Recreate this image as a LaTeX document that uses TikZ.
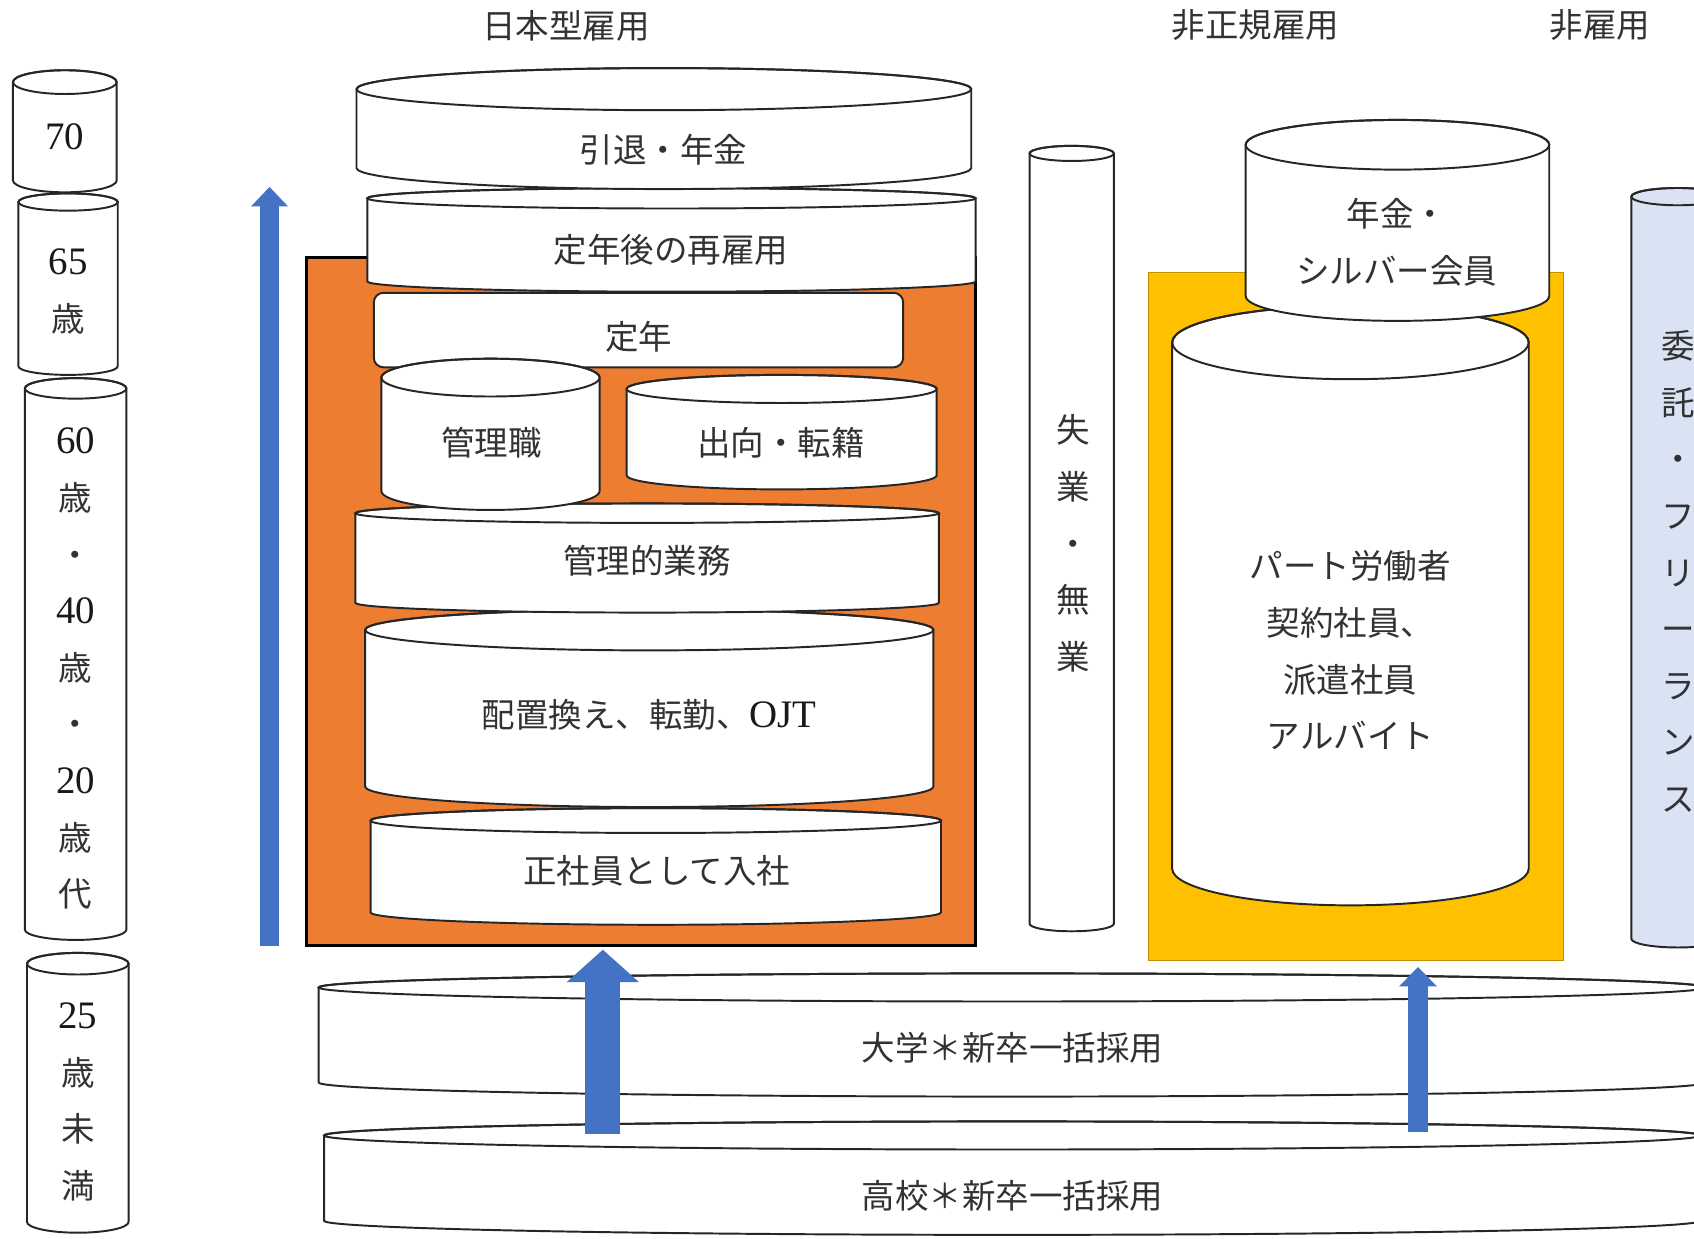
\documentclass[tikz,border=0pt]{standalone}
\usepackage{fontspec}
\setmainfont{Liberation Serif}
\newfontfamily\jp{Noto Sans CJK JP}
\usetikzlibrary{arrows.meta}
\definecolor{orfill}{RGB}{237,125,49}
\definecolor{yefill}{RGB}{255,192,0}
\definecolor{yeline}{RGB}{191,144,0}
\definecolor{lbfill}{RGB}{218,227,243}
\definecolor{blarr}{RGB}{68,114,196}
\definecolor{txtc}{RGB}{50,50,50}
\newcommand\numtxt[1]{{\fontsize{18}{26.2}\selectfont\rmfamily\color{black!90}#1}}
\tikzset{
  cyl/.style={draw=black!85, line width=0.9pt},
  lbl/.style={font=\jp\fontsize{15.5}{26.2}\selectfont, text=txtc, inner sep=0pt, align=center},
  blarrow/.style={draw=blarr, fill=blarr},
}
% x1, x2, ytop, ybottom, ry (all in picture px), fill
\newcommand\drawcyl[6]{%
  \pgfmathsetmacro\cylcx{(#1+#2)/2}%
  \pgfmathsetmacro\cylrx{(#2-#1)/4}%
  \pgfmathsetmacro\cylry{#5/2}%
  \pgfmathsetmacro\cylyt{#3+#5}%
  \pgfmathsetmacro\cylyb{#4-#5}%
  \filldraw[cyl,fill=#6] (#1,\cylyt) -- (#1,\cylyb)
     arc[start angle=180,end angle=360,x radius=\cylrx pt,y radius=\cylry pt]
     -- (#2,\cylyt)
     arc[start angle=0,end angle=180,x radius=\cylrx pt,y radius=\cylry pt] -- cycle;
  \draw[cyl] (\cylcx,\cylyt) ellipse[x radius=\cylrx pt,y radius=\cylry pt];
}
\begin{document}
\begin{tikzpicture}[x=0.5pt,y=-0.5pt]
\useasboundingbox (0,0) rectangle (1568,1146);
\clip (0,0) rectangle (1568,1146);
\fill[white] (0,0) rectangle (1568,1146);

% left age column
\drawcyl{12}{108}{65}{178}{11}{white}
\drawcyl{17}{109}{179}{347}{8}{white}
\drawcyl{23}{117}{350}{870}{9.5}{white}
\drawcyl{25}{119}{882}{1141}{10}{white}

% left arrow
\coordinate (la0) at (249.5,876);
\coordinate (la1) at (249.5,173);
\draw[blarrow, line width=8.5pt, -{Triangle[width=16.5pt,length=9pt]}] (la0) -- (la1);

% Japanese-style employment block
\filldraw[fill=orfill, draw=black, line width=1.3pt] (284,238) rectangle (903,875);
\drawcyl{343}{871}{748}{856}{11.5}{white}
\drawcyl{338}{864}{564}{747}{19}{white}
\drawcyl{329}{869}{466}{567}{9}{white}
\drawcyl{580}{867}{347}{453}{13}{white}
\draw[cyl, fill=white, rounded corners=4.5pt] (346,271) rectangle (836,340);
\drawcyl{353}{555}{332}{472}{17.5}{white}
\drawcyl{340}{903}{174}{270}{9.5}{white}
\drawcyl{330}{899}{63}{175}{19.5}{white}

% unemployment
\drawcyl{953}{1031}{135}{862}{7}{white}

% non-regular block
\filldraw[fill=yefill, draw=yeline, line width=0.6pt] (1063,252) rectangle (1447,889);
\drawcyl{1085}{1415}{283}{838}{34}{white}
\drawcyl{1153}{1434}{111}{297}{23}{white}

% non-employment
\drawcyl{1510}{1596}{174}{877}{8}{lbfill}

% bottom recruitment
\drawcyl{295}{1579}{901}{1015}{13}{white}
\drawcyl{300}{1574}{1038}{1143}{13}{white}

% bottom arrows
\coordinate (ba0) at (558,1050);
\coordinate (ba1) at (558,879);
\draw[blarrow, line width=16.25pt, -{Triangle[width=32.5pt,length=15pt]}] (ba0) -- (ba1);
\coordinate (sa0) at (1312.5,1048);
\coordinate (sa1) at (1312.5,895);
\draw[blarrow, line width=9.5pt, -{Triangle[width=17pt,length=9pt]}] (sa0) -- (sa1);

% texts
\node[lbl] (h1) at (524,24) {日本型雇用};
\node[lbl] (h2) at (1162,23) {非正規雇用};
\node[lbl] (h3) at (1481,23) {非雇用};
\node[lbl] (t70) at (60,127) {\numtxt{70}};
\node[lbl] (t65) at (63,270) {\numtxt{65}\\歳};
\node[lbl] (t60) at (70,619) {\numtxt{60}\\歳\\・\\\numtxt{40}\\歳\\・\\\numtxt{20}\\歳\\代};
\node[lbl] (t25) at (72,1020) {\numtxt{25}\\歳\\未\\満};
\node[lbl] (t1) at (614,139) {引退・年金};
\node[lbl] (t2) at (621,231) {定年後の再雇用};
\node[lbl] (t3) at (591,312) {定年};
\node[lbl] (t4) at (455,410) {管理職};
\node[lbl] (t5) at (723,410) {出向・転籍};
\node[lbl] (t6) at (599,519) {管理的業務};
\node[lbl] (t7) at (601,662) {配置換え、転勤、\numtxt{OJT}};
\node[lbl] (t8) at (608,806) {正社員として入社};
\node[lbl] (t9) at (993,503) {失\\業\\・\\無\\業};
\node[lbl] (t10) at (1293,224) {年金・\\シルバー会員};
\node[lbl] (t11) at (1250,602) {パート労働者\\契約社員、\\派遣社員\\アルバイト};
\node[lbl] (t12) at (1553,529) {委\\託\\・\\フ\\リ\\ー\\ラ\\ン\\ス};
\node[lbl] (t13) at (937,970) {大学＊新卒一括採用};
\node[lbl] (t14) at (937,1107) {高校＊新卒一括採用};
\end{tikzpicture}
\end{document}
